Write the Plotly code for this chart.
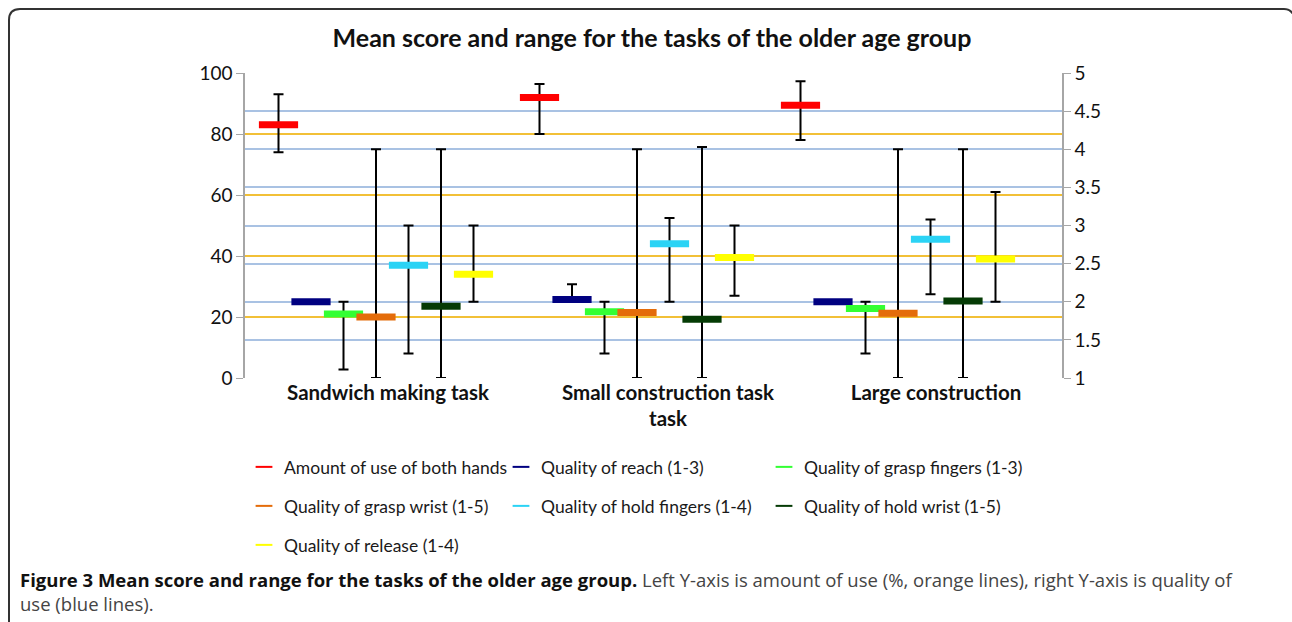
import plotly.graph_objects as go

# ---------------- data ----------------
categories = ["Sandwich making task", "Small construction task<br>task", "Large construction"]

series_names = [
    "Amount of use of both hands",
    "Quality of reach (1-3)",
    "Quality of grasp fingers (1-3)",
    "Quality of grasp wrist (1-5)",
    "Quality of hold fingers (1-4)",
    "Quality of hold wrist (1-5)",
    "Quality of release (1-4)",
]

both_hands_mean = [83, 92, 89.4]
both_hands_max = [93, 96.4, 97.3]
both_hands_min = [74, 80, 78]

reach_mean = [2.0, 2.03, 2.0]
reach_max = [2.0, 2.23, 2.0]
reach_min = [2.0, 2.0, 2.0]

grasp_fingers_mean = [1.84, 1.87, 1.91]
grasp_fingers_max = [2.0, 2.0, 2.0]
grasp_fingers_min = [1.11, 1.32, 1.32]

grasp_wrist_mean = [1.8, 1.86, 1.85]
grasp_wrist_max = [4.0, 4.0, 4.0]
grasp_wrist_min = [1.0, 1.0, 1.0]

hold_fingers_mean = [2.48, 2.76, 2.82]
hold_fingers_max = [3.0, 3.1, 3.08]
hold_fingers_min = [1.32, 2.0, 2.1]

hold_wrist_mean = [1.94, 1.77, 2.01]
hold_wrist_max = [4.0, 4.03, 4.0]
hold_wrist_min = [1.0, 1.0, 1.0]

release_mean = [2.36, 2.58, 2.56]
release_max = [3.0, 3.0, 3.44]
release_min = [2.0, 2.08, 2.0]

left_ticks = [0, 20, 40, 60, 80, 100]
right_ticks = [1, 1.5, 2, 2.5, 3, 3.5, 4, 4.5, 5]

# ---------------- style ----------------
W, H = 1292, 622
PL, PR, PT, PB = 245, 1062, 73, 378  # plot area in pixels
colors = ["#FF0000", "#000080", "#33FF33", "#E46C0A", "#2BD3F5", "#053B05", "#FFFF00"]
axes = ["y", "y2", "y2", "y2", "y2", "y2", "y2"]
# legend text start (px) for each entry: (x, y-center)
legend_pos = [(285, 467), (542, 467), (805, 467),
              (285, 506), (542, 506), (805, 506),
              (285, 545)]
LEG_TEXT_OFFSET = 41
GROUP_PX = 261.0
SERIES_PX = 32.5
FONT = "Lato"
CAP_FONT = "Open Sans"


def px_x(px):
    return (px - PL) / (PR - PL)


def px_y(py):
    return (PB - py) / (PB - PT)


x_range = [(PL - 376) / GROUP_PX, (PR - 376) / GROUP_PX]
tick_pos = [(388 - 376) / GROUP_PX, (668 - 376) / GROUP_PX, (936 - 376) / GROUP_PX]

means = [both_hands_mean, reach_mean, grasp_fingers_mean, grasp_wrist_mean,
         hold_fingers_mean, hold_wrist_mean, release_mean]
maxs = [both_hands_max, reach_max, grasp_fingers_max, grasp_wrist_max,
        hold_fingers_max, hold_wrist_max, release_max]
mins = [both_hands_min, reach_min, grasp_fingers_min, grasp_wrist_min,
        hold_fingers_min, hold_wrist_min, release_min]

fig = go.Figure()
legends = {}
for j, name in enumerate(series_names):
    off = (j - 3) * SERIES_PX / GROUP_PX
    xs = [g + off for g in range(len(categories))]
    m = means[j]
    leg_id = "legend" if j == 0 else f"legend{j + 1}"
    fig.add_trace(go.Scatter(
        x=xs, y=m, name=name, mode="markers", yaxis=axes[j], legend=leg_id,
        marker=dict(symbol="line-ew", size=28, color=colors[j],
                    line=dict(color=colors[j], width=7)),
        error_y=dict(type="data", symmetric=False,
                     array=[hi - v for hi, v in zip(maxs[j], m)],
                     arrayminus=[v - lo for v, lo in zip(m, mins[j])],
                     color="black", thickness=2, width=5),
        cliponaxis=False,
    ))
    lx, ly = legend_pos[j]
    legends[leg_id] = dict(orientation="h",
                           font=dict(family=FONT, size=17.5, color="#1a1a1a"),
                           itemsizing="constant", bgcolor="rgba(0,0,0,0)",
                           xanchor="left", yanchor="middle",
                           x=px_x(lx - LEG_TEXT_OFFSET), y=px_y(ly))

frame_path = (
    f"M {px_x(9)},{px_y(630)} L {px_x(9)},{px_y(20)} "
    f"Q {px_x(9)},{px_y(9)} {px_x(20)},{px_y(9)} "
    f"L {px_x(1284)},{px_y(9)} Q {px_x(1290)},{px_y(9)} {px_x(1293)},{px_y(14)}"
)

fig.update_layout(
    width=W, height=H,
    margin=dict(l=PL, r=W - PR, t=PT, b=H - PB, autoexpand=False),
    paper_bgcolor="white", plot_bgcolor="white",
    title=dict(text="<b>Mean score and range for the tasks of the older age group</b>",
               x=652 / W, xanchor="center", y=1 - 38 / H, yanchor="middle",
               font=dict(family=FONT, size=25, color="#111")),
    xaxis=dict(range=x_range, tickvals=tick_pos, ticktext=[f"<b>{c}</b>" for c in categories],
               showgrid=False, zeroline=False, showline=False, ticks="",
               tickfont=dict(family=FONT, size=20.5, color="#111")),
    yaxis=dict(range=[0, 100], tickvals=left_ticks, showgrid=True, gridcolor="#F2C037",
               gridwidth=1.5, zeroline=False, showline=True, linecolor="#A6A6A6", linewidth=1.5,
               ticks="outside", ticklen=7, tickcolor="#A6A6A6",
               tickfont=dict(family=FONT, size=19, color="#111")),
    yaxis2=dict(range=[1, 5], tickvals=right_ticks, overlaying="y", side="right",
                showgrid=True, gridcolor="#A9C2E3", gridwidth=1.5, zeroline=False,
                showline=True, linecolor="#A6A6A6", linewidth=1.5,
                ticks="outside", ticklen=7, tickcolor="#A6A6A6",
                tickfont=dict(family=FONT, size=19, color="#111")),
    showlegend=True,
    shapes=[dict(type="path", xref="paper", yref="paper", path=frame_path,
                 line=dict(color="#333", width=2))],
    annotations=[
        dict(xref="paper", yref="paper", x=px_x(18), y=px_y(591.5), xanchor="left", yanchor="middle",
             showarrow=False, align="left",
             text="<b>Figure 3 Mean score and range for the tasks of the older age group.</b>"
                  "<span style='color:#444'> Left Y-axis is amount of use (%, orange lines), "
                  "right Y-axis is quality of</span><br>"
                  "<span style='color:#444'>use (blue lines).</span>",
             font=dict(family=CAP_FONT, size=18.5, color="#111")),
    ],
)
fig.update_layout(**legends)

fig.write_html("out.html", config={"displayModeBar": False},
               post_script="document.body.style.margin='0';document.body.style.overflow='hidden';")
